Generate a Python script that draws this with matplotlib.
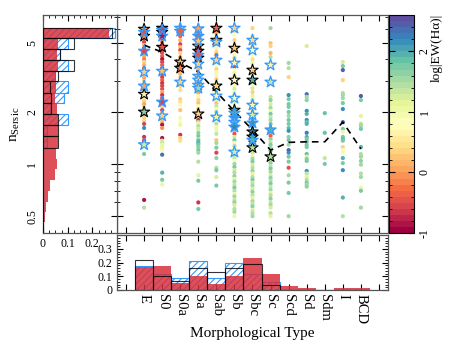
import numpy as np
import matplotlib
matplotlib.use('Agg')
import matplotlib.pyplot as plt
from matplotlib.colors import Normalize
from matplotlib.cm import ScalarMappable
from matplotlib.ticker import MultipleLocator, FixedLocator, FixedFormatter, LogLocator, NullFormatter

plt.rcParams['font.family'] = ['Liberation Serif', 'DejaVu Serif']
plt.rcParams['mathtext.fontset'] = 'custom'
plt.rcParams['mathtext.rm'] = 'Liberation Serif'
plt.rcParams['mathtext.it'] = 'Liberation Serif:italic'
plt.rcParams['hatch.linewidth'] = 0.8

# ---------------- data ----------------
types = ['E', 'S0', 'S0a', 'Sa', 'Sab', 'Sb', 'Sbc', 'Sc', 'Scd', 'Sd', 'Sdm', 'I', 'BCD']

dot_n = [
    [5.89, 5.66, 5.30, 5.03, 4.83, 4.64, 4.35, 4.17, 4.01, 3.86, 3.71, 3.56, 3.42, 3.29, 3.12, 3.00, 2.88,
     2.73, 2.63, 2.39, 2.30, 2.21, 2.13, 1.94, 1.84, 1.77, 1.70, 1.61, 1.43, 1.37, 1.34, 1.14, 0.62, 0.56],
    [5.89, 5.66, 5.44, 5.23, 5.03, 4.83, 4.52, 4.35, 4.17, 4.01, 3.86, 3.71, 3.56, 3.29, 3.16, 3.04, 2.92,
     2.81, 2.70, 2.59, 2.49, 2.39, 2.21, 2.13, 2.04, 1.96, 1.81, 1.74, 1.68, 1.61, 1.41, 1.36, 1.32, 1.29,
     1.24, 1.20, 1.13, 0.89, 0.81, 0.76],
    [5.66, 5.44, 5.16, 4.89, 4.70, 4.52, 4.35, 4.12, 3.96, 3.76, 3.29, 3.16, 3.04, 2.81, 2.66, 2.36, 2.27,
     2.18, 2.04, 1.84, 1.74, 1.68, 1.47, 1.41, 1.36],
    [5.81, 5.58, 5.30, 4.89, 4.64, 4.35, 4.12, 3.91, 3.61, 3.47, 3.33, 3.08, 2.92, 2.66, 2.56, 2.46, 2.33,
     2.24, 2.15, 2.07, 1.99, 1.86, 1.79, 1.74, 1.70, 1.65, 1.59, 1.51, 1.45, 1.39, 1.36, 1.32, 1.29, 1.25,
     1.20, 1.16, 1.03, 0.86, 0.80, 0.60, 0.55],
    [5.89, 5.66, 5.37, 4.89, 4.64, 4.40, 4.23, 3.81, 3.66, 3.51, 3.38, 3.25, 3.08, 2.96, 2.70, 2.59, 2.33,
     2.24, 2.15, 2.07, 1.99, 1.91, 1.77, 1.70, 1.63, 1.57, 1.49, 1.37, 1.32, 1.24, 1.16, 1.08, 0.95, 0.92,
     0.84, 0.75],
    [5.81, 5.51, 5.16, 4.89, 4.46, 4.23, 4.07, 3.61, 3.47, 3.33, 3.20, 2.81, 2.70, 2.59, 2.49, 2.24, 2.15,
     1.68, 1.61, 1.55, 1.49, 1.43, 1.37, 1.32, 1.27, 1.22, 1.13, 1.08, 1.04, 1.00, 0.96, 0.92, 0.89, 0.85,
     0.82, 0.79, 0.76, 0.73, 0.70, 0.67, 0.65, 0.62, 0.60, 0.58, 0.55, 0.53, 0.50],
    [6.05, 5.44, 4.89, 4.70, 4.23, 4.01, 3.81, 3.29, 2.88, 2.73, 2.59, 2.46, 2.33, 2.24, 2.10, 2.02, 1.84,
     1.65, 1.57, 1.49, 1.41, 1.32, 1.27, 1.20, 1.16, 1.11, 1.07, 1.03, 0.99, 0.95, 0.91, 0.88, 0.84, 0.81,
     0.78, 0.75, 0.72, 0.69, 0.66, 0.64, 0.61, 0.59, 0.57, 0.54, 0.52, 0.50],
    [6.05, 4.96, 4.77, 4.35, 4.12, 2.43, 2.33, 2.21, 2.10, 2.02, 1.94, 1.86, 1.79, 1.70, 1.61, 1.51, 1.45,
     1.39, 1.34, 1.29, 1.24, 1.19, 1.14, 1.05, 1.01, 0.97, 0.94, 0.90, 0.86, 0.83, 0.80, 0.77, 0.74, 0.71,
     0.68, 0.66, 0.63, 0.60, 0.58, 0.56, 0.52, 0.50],
    [3.81, 3.56, 3.16, 2.49, 2.36, 2.21, 2.13, 1.99, 1.89, 1.79, 1.70, 1.61, 1.55, 1.43, 1.37, 1.29, 1.20,
     1.16, 1.10, 1.03, 0.95, 0.86, 0.78, 0.68, 0.50],
    [4.77, 2.52, 2.43, 2.33, 2.02, 1.94, 1.79, 1.74, 1.70, 1.51, 1.43, 1.39, 1.34, 1.29, 1.25, 1.14, 1.10,
     1.07, 1.04, 0.91, 0.88, 0.84, 0.81, 0.78, 0.76, 0.74],
    [1.96, 1.51, 1.08, 1.00],
    [3.86, 3.66, 3.47, 3.04, 2.56, 2.49, 2.39, 2.24, 2.07, 1.74, 1.59, 1.53, 1.43, 1.39, 1.36, 1.25, 1.20,
     1.17, 1.08, 1.01, 0.92, 0.64, 0.50],
    [2.46, 2.33, 1.89, 1.70, 1.65, 1.59, 1.25, 1.14, 1.10, 1.04, 0.99, 0.88, 0.84, 0.73, 0.70, 0.56],
]

dot_ew = [
    [-0.3, 0.0, 2.0, -0.6, 0.1, -0.7, 0.2, 0.0, -0.2, 0.3, 0.1, -0.4, 0.2, 0.4, 0.0, 1.3, 0.3,
     0.5, 0.2, 0.6, 0.3, 0.0, 0.5, 1.8, 0.4, 0.3, -0.6, 2.1, -0.7, -0.6, -0.5, 1.7, -0.8, 1.4],
    [-0.6, -0.8, -0.5, -0.7, -0.2, -0.6, -0.7, -0.5, -0.3, -0.8, -0.6, -0.4, -0.7, -0.5, -0.6, -0.3, -0.7,
     -0.6, -0.5, 0.0, -0.7, -0.6, -0.5, 0.3, -0.6, 0.4, 0.2, 0.1, -0.8, -0.1, -0.8, 1.2, 1.3, 1.0,
     1.1, 0.9, 2.3, 2.0, 1.8, 1.0],
    [0.0, -0.3, 0.1, -0.6, 0.2, -0.5, 0.3, 0.0, 0.2, -0.4, 0.1, 0.4, 0.6, 0.3, 0.5, 0.3, 0.5,
     0.7, 0.2, 0.9, 0.8, 1.0, -0.7, 0.3, 0.5],
    [-0.5, 0.0, -0.2, 0.1, -0.6, 0.2, 0.0, -0.4, 0.3, 0.1, 0.4, 0.2, 0.5, 0.3, 0.0, 0.6, 0.4,
     0.2, 0.7, 0.3, 0.5, 0.8, -0.7, 1.3, 1.0, 1.4, 1.2, 1.6, 1.7, 1.4, 1.9, 2.0, 1.8, 1.6,
     1.7, 1.5, 1.4, 1.1, 1.7, -0.7, 1.7],
    [0.3, 0.0, 0.4, 0.2, 0.6, 0.3, -0.5, 0.5, 0.8, 0.4, 0.9, 0.6, 0.3, 1.2, 0.5, 0.8, 1.0,
     0.2, 1.3, 0.9, 1.5, 1.1, 0.8, 1.4, 0.6, 1.0, 1.3, 0.2, 1.5, 1.8, -0.6, 1.6, 1.4, 1.8,
     1.2, 1.8],
    [0.5, 0.8, 0.4, 1.0, 0.6, 0.9, 0.3, -0.6, 0.7, 1.1, 0.5, 0.9, 1.2, 0.6, 1.4, 1.1, 0.8,
     1.3, 1.0, 1.5, -0.5, 1.2, 1.7, 0.9, 1.4, 1.1, 1.6, 1.3, 0.8, 1.5, 1.8, 1.2, 1.4, 1.6,
     1.1, 1.5, 1.3, 1.7, 1.4, 1.0, 1.5, 1.3, 1.6, 1.2, 1.4, 1.5, 1.0],
    [0.3, 0.5, 0.4, 0.1, 0.7, 0.5, 1.0, 0.6, 0.9, 1.2, 0.4, 1.1, 1.4, -0.6, 1.0, 0.3, 1.3,
     1.6, 1.1, -0.4, 0.8, 1.5, 1.2, 1.7, 1.3, 1.0, 1.5, 1.8, 1.2, 1.4, 1.6, 1.1, 1.4, 1.7,
     1.3, 1.5, 1.2, 1.6, 1.4, 1.1, 1.5, 1.3, 1.6, 1.2, 1.4, 1.5],
    [1.5, 0.2, 0.3, 0.1, 1.4, 1.3, 1.6, 1.2, 1.5, 1.0, 1.7, 1.3, 1.5, 1.8, 1.2, 1.4, -0.4,
     1.6, 1.3, 1.7, 1.5, 1.9, 1.2, 1.4, 1.6, 1.3, 1.8, 1.5, 1.2, 1.6, 1.4, 1.7, 1.3, 1.5,
     1.1, 1.4, 1.6, 1.3, 1.5, 1.2, 1.4, 1.1],
    [1.5, 1.4, 0.3, 2.1, 1.8, 1.7, 1.8, 1.8, 1.5, 1.8, 1.7, 1.9, 2.1, 1.6, 1.7, 1.5, 2.4,
     2.1, 1.8, 1.8, -0.5, 1.5, 1.7, 1.8, 1.5],
    [1.2, 2.3, 1.5, 1.6, 2.1, 2.0, 2.1, 1.9, 2.0, 2.2, 2.0, 1.8, 1.9, 1.7, 1.8, 1.9, 1.1,
     1.6, 1.7, 2.1, 1.3, 1.1, 1.4, 1.7, 1.5, 1.6],
    [1.9, 1.9, 1.3, 1.8],
    [1.2, 1.8, 2.4, 0.3, 1.4, 1.5, 1.5, 1.8, 2.1, 2.4, 1.8, 1.0, 1.8, 1.9, 1.7, 0.4, 0.8,
     0.9, 2.0, 1.8, 2.1, 2.0, 1.4],
    [2.4, 1.8, 1.1, 1.4, 1.5, 1.7, 2.0, 1.4, 1.5, 1.6, 1.5, 1.4, 1.5, 1.0, 1.7, 1.5],
]

# stars with black outline
kstar_type = [0, 0, 0, 0, 1, 1, 1, 2, 2, 3, 3, 3, 3, 4, 4, 4, 5, 5, 5, 6, 6, 6, 6, 6, 7]
kstar_n = [5.97, 5.44, 2.52, 1.99, 6.05, 5.73, 4.70, 3.86, 3.56, 4.77, 4.46, 4.07, 1.94,
           6.05, 5.16, 2.81, 4.64, 3.04, 2.04, 3.47, 3.04, 1.53, 1.43, 1.24, 1.10]
kstar_ew = [0.0, -0.2, 0.6, 1.6, -0.8, -0.6, -0.5, 0.2, -0.2, -0.2, -0.6, 0.0, 0.4,
            -0.3, 0.0, 0.5, 0.2, 0.7, 2.0, 0.3, 2.0, 2.1, 1.9, 1.4, 1.4]

# stars with blue outline
bstar_type = [0, 0, 0, 0, 0, 1, 1, 1, 1, 1, 2, 2, 2, 3, 3, 3, 3, 3, 3, 3, 3, 3,
              4, 4, 4, 4, 5, 5, 5, 5, 5, 5, 5, 5, 6, 6, 6, 6, 6, 6, 7, 7, 7]
bstar_n = [5.73, 4.46, 3.38, 2.81, 1.29, 5.89, 5.44, 3.42, 2.27, 1.89, 6.05, 5.81, 2.96,
           6.00, 5.44, 5.10, 4.23, 3.76, 3.20, 3.04, 2.84, 2.73,
           5.03, 3.96, 2.46, 1.86, 6.05, 3.81, 2.39, 1.96, 1.84, 1.74, 1.63, 1.17,
           5.16, 4.52, 2.18, 1.91, 1.72, 1.37, 3.71, 2.96, 1.57]
bstar_ew = [-0.5, -0.6, 0.3, 0.0, 1.2, -0.7, -0.8, 0.2, -0.6, 0.3, 0.1, -0.3, 0.4,
            0.0, -0.3, 0.2, -0.5, 0.3, 0.1, 0.5, 0.2, 1.5,
            0.2, 0.4, 0.6, 1.0, 0.3, 0.6, 0.9, 2.0, 2.1, 1.9, 2.2, 1.2,
            0.5, 0.8, 0.9, 1.2, 2.1, 2.0, 0.6, 1.3, 2.0]

# median n per type (dashed line)
median_n = [4.83, 4.40, 3.83, 3.39, 2.60, 2.01, 1.57, 1.20, 1.33, 1.34, 1.34, 1.74, 1.22]

# bottom histogram (fraction per type)
hist_type_red = [0.165, 0.175, 0.05, 0.10, 0.045, 0.10, 0.23, 0.12, 0.027, 0.017, 0.0, 0.012, 0.012]
hist_type_blue = [0.175, 0.12, 0.09, 0.21, 0.09, 0.195, 0.12, 0.06, 0.0, 0.0, 0.0, 0.0, 0.0]
hist_type_black = [0.22, 0.10, 0.065, 0.16, 0.13, 0.16, 0.19, 0.035, 0.0, 0.0, 0.0, 0.0, 0.0]

# left histogram (fraction per n bin), bin edges in n (top to bottom)
n_edges = [6.10, 5.30, 4.56, 3.96, 3.43, 2.99, 2.57, 2.23, 1.94, 1.67, 1.45, 1.24, 1.07, 0.93,
           0.81, 0.70, 0.60, 0.53, 0.46, 0.39]
hist_n_red = [0.269, 0.061, 0.057, 0.061, 0.054, 0.054, 0.048, 0.057, 0.061, 0.061, 0.061, 0.054,
              0.057, 0.048, 0.030, 0.020, 0.011, 0.007, 0.004]
hist_n_blue = [0.293, 0.102, 0.068, 0.102, 0.050, 0.102, 0.086, 0.030, 0.102, 0.018, 0.018, 0.0,
               0.0, 0.0, 0.0, 0.0, 0.0, 0.0, 0.0]
hist_n_black = [0.279, 0.125, 0.068, 0.125, 0.061, 0.027, 0.034, 0.034, 0.061, 0.061, 0.061, 0.0,
                0.0, 0.0, 0.0, 0.0, 0.0, 0.0, 0.0]

# ---------------- figure ----------------
W, H = 453, 354
fig = plt.figure(figsize=(W / 100, H / 100), dpi=100)


def box(x0, y0, x1, y1):
    return [x0 / W, 1 - y1 / H, (x1 - x0) / W, (y1 - y0) / H]


ax = fig.add_axes(box(117, 15, 388, 233))
axl = fig.add_axes(box(43, 15, 117, 233))
axb = fig.add_axes(box(117, 235, 388, 290))
cax = fig.add_axes(box(389, 15, 414, 233))

cmap = plt.get_cmap('Spectral', 36)
norm = Normalize(-1, 2.6)

RED = '#d7303c'
BLUE = '#3399ff'

# main scatter
for i, (ns, ews) in enumerate(zip(dot_n, dot_ew)):
    ax.scatter(np.full(len(ns), i), ns, c=ews, cmap=cmap, norm=norm, s=9, marker='o',
               linewidths=0, zorder=2)
ax.plot(range(len(types)), median_n, color='k', lw=1.2, dashes=(4, 3), zorder=3)
ax.scatter(kstar_type, kstar_n, c=kstar_ew, cmap=cmap, norm=norm, marker='*', s=72,
           edgecolors='k', linewidths=0.8, zorder=4)
ax.scatter(bstar_type, bstar_n, c=bstar_ew, cmap=cmap, norm=norm, marker='*', s=72,
           edgecolors=BLUE, linewidths=0.9, zorder=4)

ax.set_xlim(-1.5, 13.5)
ax.set_yscale('log')
ax.set_ylim(0.4, 7.2)
ax.xaxis.set_major_locator(FixedLocator(range(-1, 14)))
ax.yaxis.set_major_locator(FixedLocator([0.5, 1, 2, 5]))
ax.yaxis.set_minor_locator(LogLocator(base=10, subs=np.arange(2, 10)))
ax.tick_params(which='both', direction='in', top=True, right=True, bottom=True, left=True,
               labelbottom=False, labelleft=False)
ax.tick_params(which='major', length=4)
ax.tick_params(which='minor', length=2.5)

# left histogram
lo = np.array(n_edges[1:])
hi = np.array(n_edges[:-1])
axl.barh(lo, hist_n_blue, height=hi - lo, align='edge', fill=False, hatch='/////',
         edgecolor=BLUE, linewidth=0.8, zorder=1)
axl.barh(lo, hist_n_red, height=hi - lo, align='edge', color=RED, alpha=0.85,
         linewidth=0, zorder=2)
axl.barh(lo, hist_n_black, height=hi - lo, align='edge', fill=False, edgecolor='k',
         linewidth=0.8, alpha=0.8, zorder=3)
axl.set_yscale('log')
axl.set_ylim(0.4, 7.2)
axl.set_xlim(0, 0.3)
axl.yaxis.set_major_locator(FixedLocator([0.5, 1, 2, 5]))
axl.yaxis.set_major_formatter(FixedFormatter(['0.5', '1', '2', '5']))
axl.yaxis.set_minor_locator(LogLocator(base=10, subs=np.arange(2, 10)))
axl.yaxis.set_minor_formatter(NullFormatter())
axl.xaxis.set_major_locator(FixedLocator([0, 0.1, 0.2]))
axl.xaxis.set_major_formatter(FixedFormatter(['0', '0.1', '0.2']))
axl.xaxis.set_minor_locator(MultipleLocator(0.025))
axl.tick_params(axis='y', which='both', direction='in', left=False, right=True,
                labelleft=True, labelright=False)
axl.tick_params(axis='x', which='both', direction='in', top=True, bottom=True)
axl.tick_params(which='major', length=4, labelsize=8.5)
axl.tick_params(which='minor', length=2.5)
for t in axl.get_yticklabels():
    t.set_rotation(90)
    t.set_va('center')
axl.set_ylabel(r'n$_{\rm Sersic}$', fontsize=11, labelpad=3)

# bottom histogram
x = np.arange(len(types))
axb.bar(x, hist_type_blue, width=1.0, fill=False, hatch='/////', edgecolor=BLUE,
        linewidth=0.8, zorder=1)
axb.bar(x, hist_type_red, width=1.0, color=RED, alpha=0.85, linewidth=0, zorder=2)
axb.bar(x, hist_type_black, width=1.0, fill=False, edgecolor='k', linewidth=0.8,
        alpha=0.8, zorder=3)
axb.set_xlim(-1.5, 13.5)
axb.set_ylim(0, 0.4)
axb.xaxis.set_major_locator(FixedLocator(range(-1, 14)))
axb.xaxis.set_major_formatter(FixedFormatter([''] + types + ['']))
axb.yaxis.set_major_locator(FixedLocator([0, 0.1, 0.2, 0.3]))
axb.yaxis.set_major_formatter(FixedFormatter(['0', '0.1', '0.2', '0.3']))
axb.yaxis.set_minor_locator(MultipleLocator(0.02))
axb.tick_params(which='both', direction='in', top=True, right=True)
axb.tick_params(which='major', length=4)
axb.tick_params(which='minor', length=2.5)
axb.tick_params(axis='y', labelsize=8.5)
axb.tick_params(axis='x', labelsize=10.5, pad=3)
for t in axb.get_xticklabels():
    t.set_rotation(-90)
    t.set_va('top')
    t.set_ha('center')
axb.set_xlabel('Morphological Type', fontsize=11, labelpad=2)

# colorbar
sm = ScalarMappable(norm=norm, cmap=cmap)
cb = fig.colorbar(sm, cax=cax)
cb.set_ticks([-1, 0, 1, 2])
cb.ax.yaxis.set_major_formatter(FixedFormatter(['-1', '0', '1', '2']))
cb.ax.yaxis.set_minor_locator(MultipleLocator(0.2))
cb.ax.tick_params(which='both', direction='in', left=True, right=True, labelsize=8.5)
cb.ax.tick_params(which='major', length=4)
cb.ax.tick_params(which='minor', length=2.5)
for t in cb.ax.get_yticklabels():
    t.set_rotation(90)
    t.set_va('center')
cb.outline.set_linewidth(0.8)
fig.text(437 / W, 1 - 14 / H, 'log|EW(Hα)|', rotation=90, ha='center', va='top', fontsize=9.5)

for a in (ax, axl, axb):
    for s in a.spines.values():
        s.set_linewidth(0.9)
        s.set_color('#555555')

fig.savefig('out.png', dpi=100)
